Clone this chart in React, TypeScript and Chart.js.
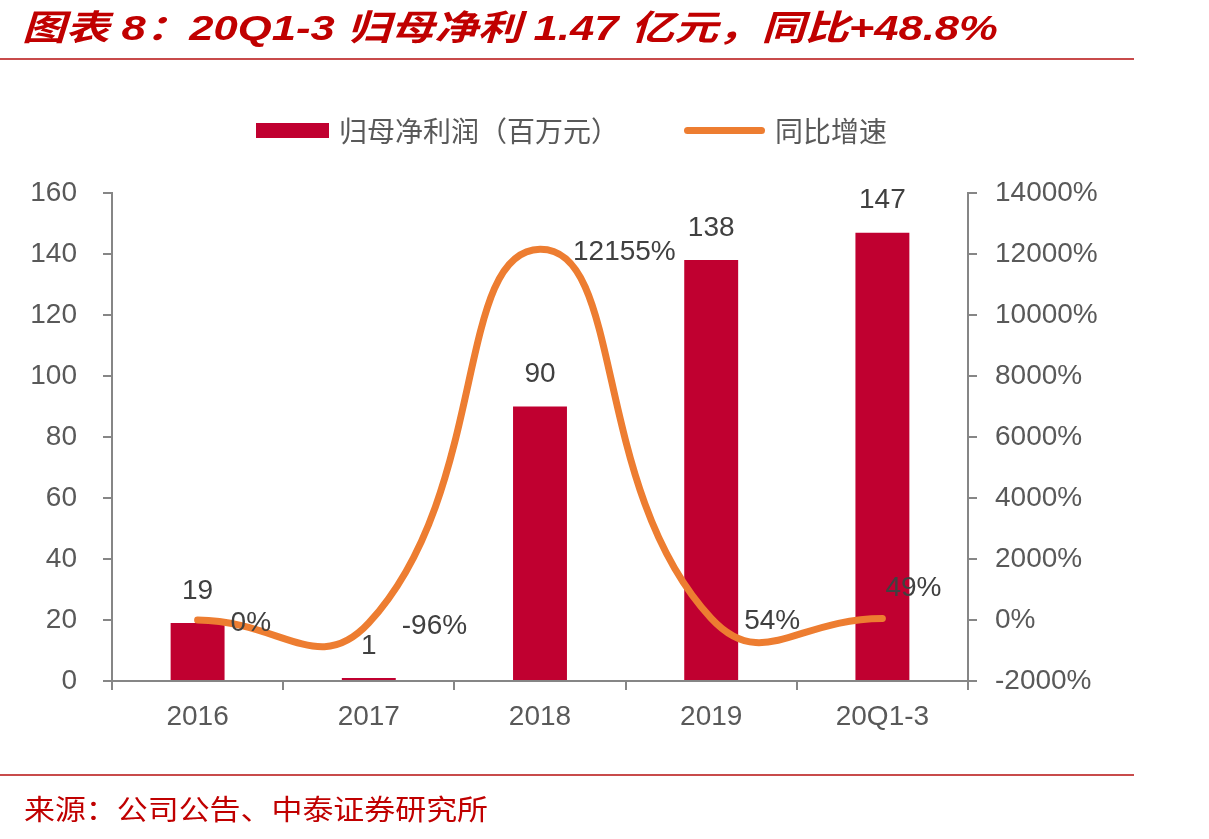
import React, { useEffect, useRef } from "react";
import { Chart, registerables } from "chart.js";

Chart.register(...registerables);

// Net profit attributable to parent (RMB mn) and YoY growth (%)
const categories = ["2016", "2017", "2018", "2019", "20Q1-3"];
const netProfit = [19, 1, 90, 138, 147];
const yoyGrowth = [0, -96, 12155, 54, 49];

const leftTicks = { min: 0, max: 160, step: 20 };
const rightTicks = { min: -2000, max: 14000, step: 2000 };

const SANS = "'Liberation Sans', Arial, 'Noto Sans CJK SC', sans-serif";
const CJK = "'Noto Sans CJK SC', 'Liberation Sans', sans-serif";
const AXIS_GREY = "#868686";
const TICK_TEXT = "#595959";
const LABEL_TEXT = "#404040";
const BAR_RED = "#C00030";
const LINE_ORANGE = "#ED7D31";
const TITLE_RED = "#C00000";
const RULE_RED = "#C84B4B";

// where each growth label sits relative to its point
const growthLabelSide = ["right", "right", "right", "right", "above"];

const valueLabels = {
  id: "valueLabels",
  afterDatasetsDraw(chart: any) {
    const ctx = chart.ctx as CanvasRenderingContext2D;
    ctx.save();
    ctx.font = `28px ${SANS}`;
    ctx.fillStyle = LABEL_TEXT;
    ctx.textBaseline = "middle";

    const barMeta = chart.getDatasetMeta(1);
    barMeta.data.forEach((el: any, i: number) => {
      ctx.textAlign = "center";
      ctx.fillText(String(netProfit[i]), el.x, el.y - 32);
    });

    const lineMeta = chart.getDatasetMeta(0);
    lineMeta.data.forEach((el: any, i: number) => {
      const text = `${yoyGrowth[i]}%`;
      if (growthLabelSide[i] === "above") {
        ctx.textAlign = "center";
        ctx.fillText(text, el.x + 31, el.y - 30);
      } else {
        ctx.textAlign = "left";
        ctx.fillText(text, el.x + 33, el.y + 3);
      }
    });
    ctx.restore();
  },
};

function StretchText(props: { text: string; width: number; style: React.CSSProperties }) {
  const ref = useRef<HTMLSpanElement | null>(null);
  useEffect(() => {
    const el = ref.current;
    if (!el) return;
    el.style.transform = "none";
    const natural = el.offsetWidth;
    if (natural > 0) el.style.transform = `scaleX(${props.width / natural})`;
  }, [props.text, props.width]);
  return (
    <span
      ref={ref}
      style={{
        position: "absolute",
        whiteSpace: "nowrap",
        transformOrigin: "left center",
        ...props.style,
      }}
    >
      {props.text}
    </span>
  );
}

export default function App() {
  const canvasRef = useRef<HTMLCanvasElement | null>(null);

  useEffect(() => {
    const canvas = canvasRef.current;
    if (!canvas) return;
    const tickFont = { family: SANS, size: 28 };

    const chart = new Chart(canvas, {
      type: "bar",
      data: {
        labels: categories,
        datasets: [
          {
            type: "line",
            label: "同比增速",
            data: yoyGrowth,
            yAxisID: "yR",
            borderColor: LINE_ORANGE,
            backgroundColor: LINE_ORANGE,
            borderWidth: 7,
            tension: 0.5,
            pointRadius: 0,
            borderCapStyle: "round",
            borderJoinStyle: "round",
            order: 0,
          } as any,
          {
            type: "bar",
            label: "归母净利润（百万元）",
            data: netProfit,
            yAxisID: "yL",
            backgroundColor: BAR_RED,
            barPercentage: 0.315,
            categoryPercentage: 1,
            order: 1,
          } as any,
        ],
      },
      options: {
        responsive: false,
        animation: false,
        devicePixelRatio: 1,
        layout: { padding: { top: 193, left: 0, right: 0, bottom: 0 } },
        plugins: {
          legend: { display: false },
          tooltip: { enabled: false },
          title: { display: false },
        },
        scales: {
          x: {
            grid: {
              drawOnChartArea: false,
              tickLength: 9,
              color: AXIS_GREY,
              lineWidth: 2,
              offset: true,
            },
            border: { color: AXIS_GREY, width: 2 },
            ticks: { font: tickFont, color: TICK_TEXT, padding: 10, maxRotation: 0 },
            afterFit: (s: any) => {
              s.height = 839 - 681;
            },
          },
          yL: {
            position: "left",
            min: leftTicks.min,
            max: leftTicks.max,
            grid: { drawOnChartArea: false, tickLength: 9, color: AXIS_GREY, lineWidth: 2 },
            border: { color: AXIS_GREY, width: 2 },
            ticks: { stepSize: leftTicks.step, font: tickFont, color: TICK_TEXT, padding: 26 },
            afterFit: (s: any) => {
              s.width = 112;
            },
          },
          yR: {
            position: "right",
            min: rightTicks.min,
            max: rightTicks.max,
            grid: { drawOnChartArea: false, tickLength: 9, color: AXIS_GREY, lineWidth: 2 },
            border: { color: AXIS_GREY, width: 2 },
            ticks: {
              stepSize: rightTicks.step,
              font: tickFont,
              color: TICK_TEXT,
              padding: 18,
              callback: (v: any) => `${v}%`,
            },
            afterFit: (s: any) => {
              s.width = 1209 - 968;
            },
          },
        },
      } as any,
      plugins: [valueLabels],
    });

    return () => chart.destroy();
  }, []);

  return (
    <div
      style={{
        position: "absolute",
        left: 0,
        top: 0,
        width: 1209,
        height: 839,
        background: "#ffffff",
        overflow: "hidden",
      }}
    >
      <canvas
        ref={canvasRef}
        width={1209}
        height={839}
        style={{ position: "absolute", left: 0, top: 0, width: 1209, height: 839 }}
      />

      <StretchText
        text="图表 8：20Q1-3 归母净利 1.47 亿元，同比+48.8%"
        width={976}
        style={{
          left: 22,
          top: 10,
          lineHeight: "36px",
          fontSize: 35,
          fontWeight: 700,
          fontStyle: "italic",
          fontFamily: SANS,
          color: TITLE_RED,
        }}
      />
      <div style={{ position: "absolute", left: 0, top: 58, width: 1134, height: 2, background: RULE_RED }} />

      {/* legend */}
      <div style={{ position: "absolute", left: 256, top: 123, width: 73, height: 15, background: BAR_RED }} />
      <span
        style={{
          position: "absolute",
          left: 339,
          top: 114,
          lineHeight: "32px",
          fontSize: 28,
          fontFamily: CJK,
          color: TICK_TEXT,
          whiteSpace: "nowrap",
        }}
      >
        归母净利润（百万元）
      </span>
      <div
        style={{
          position: "absolute",
          left: 684,
          top: 127,
          width: 81,
          height: 7,
          borderRadius: 4,
          background: LINE_ORANGE,
        }}
      />
      <span
        style={{
          position: "absolute",
          left: 775,
          top: 114,
          lineHeight: "32px",
          fontSize: 28,
          fontFamily: CJK,
          color: TICK_TEXT,
          whiteSpace: "nowrap",
        }}
      >
        同比增速
      </span>

      <div style={{ position: "absolute", left: 0, top: 774, width: 1134, height: 2, background: RULE_RED }} />
      <StretchText
        text="来源：公司公告、中泰证券研究所"
        width={464}
        style={{
          left: 24,
          top: 792,
          lineHeight: "32px",
          fontSize: 28,
          fontFamily: CJK,
          color: TITLE_RED,
        }}
      />
    </div>
  );
}
